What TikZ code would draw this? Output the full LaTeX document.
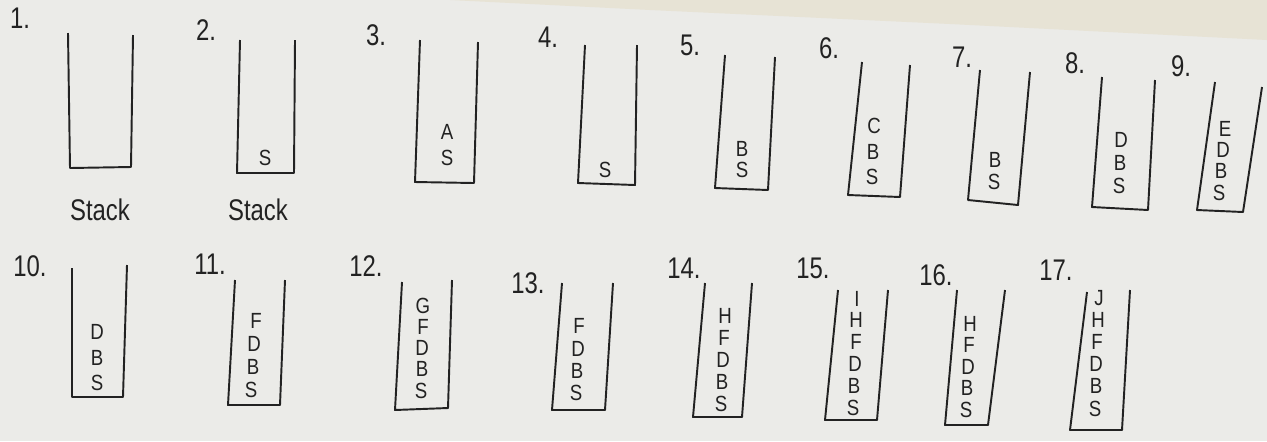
\documentclass[tikz,border=0pt]{standalone}
\usepackage{fontspec}
\setmainfont{Liberation Sans}
\definecolor{paper}{HTML}{EBEBE8}
\definecolor{beige}{HTML}{E7E3D5}
\definecolor{ink}{HTML}{222222}
\tikzset{
  cup/.style={draw=ink, line width=1.1pt, line join=round},
  lab/.style={text=ink, font=\fontsize{17}{17}\selectfont, inner sep=0pt, xscale=0.8},
  let/.style={text=ink, font=\fontsize{12.5}{12.5}\selectfont, inner sep=0pt, xscale=0.85},
}
\begin{document}
\begin{tikzpicture}[x=0.02cm,y=-0.02cm]
\fill[paper] (0,0) rectangle (1267,441);
\fill[beige] (450,0) -- (1267,0) -- (1267,40) -- (950,24) -- (650,10) -- cycle;
\useasboundingbox (0,0) rectangle (1267,441);
% ---------- row 1 ----------
\node[lab] (n1) at (20,18) {1.};
\draw[cup] (68,33) -- (70,168) -- (131,167) -- (133,35);
\node[lab] (st1) at (100,210) {Stack};
\node[lab] (n2) at (206,30) {2.};
\draw[cup] (240,40) -- (237,173) -- (294,173) -- (295,40);
\node[let] (c2s) at (265,158) {S};
\node[lab] (st2) at (258,210) {Stack};
\node[lab] (n3) at (376,35) {3.};
\draw[cup] (420,40) -- (415,182) -- (474,183) -- (478,42);
\node[let] (c3a) at (447,132) {A};
\node[let] (c3s) at (447,158) {S};
\node[lab] (n4) at (548,37) {4.};
\draw[cup] (585,45) -- (578,183) -- (635,185) -- (637,45);
\node[let] (c4s) at (605,170) {S};
\node[lab] (n5) at (690,45) {5.};
\draw[cup] (725,55) -- (715,188) -- (768,190) -- (775,57);
\node[let] (c5b) at (742,149) {B};
\node[let] (c5s) at (742,170) {S};
\node[lab] (n6) at (829,48) {6.};
\draw[cup] (862,62) -- (848,195) -- (900,197) -- (910,65);
\node[let] (c6c) at (874,126) {C};
\node[let] (c6b) at (873,152) {B};
\node[let] (c6s) at (872,177) {S};
\node[lab] (n7) at (962,57) {7.};
\draw[cup] (980,70) -- (968,200) -- (1018,205) -- (1030,72);
\node[let] (c7b) at (995,160) {B};
\node[let] (c7s) at (994,182) {S};
\node[lab] (n8) at (1075,63) {8.};
\draw[cup] (1102,77) -- (1092,207) -- (1148,210) -- (1155,80);
\node[let] (c8d) at (1121,140) {D};
\node[let] (c8b) at (1120,163) {B};
\node[let] (c8s) at (1119,186) {S};
\node[lab] (n9) at (1181,66) {9.};
\draw[cup] (1215,82) -- (1197,210) -- (1243,212) -- (1262,87);
\node[let] (c9e) at (1225,129) {E};
\node[let] (c9d) at (1223,150) {D};
\node[let] (c9b) at (1221,171) {B};
\node[let] (c9s) at (1219,193) {S};
% ---------- row 2 ----------
\node[lab] (n10) at (30,266) {10.};
\draw[cup] (72,268) -- (72,397) -- (123,397) -- (127,265);
\node[let] (c10d) at (97,332) {D};
\node[let] (c10b) at (97,358) {B};
\node[let] (c10s) at (97,383) {S};
\node[lab] (n11) at (210,264) {11.};
\draw[cup] (235,280) -- (228,405) -- (280,405) -- (285,280);
\node[let] (c11f) at (256,321) {F};
\node[let] (c11d) at (254,344) {D};
\node[let] (c11b) at (253,367) {B};
\node[let] (c11s) at (251,390) {S};
\node[lab] (n12) at (366,266) {12.};
\draw[cup] (402,282) -- (395,410) -- (448,408) -- (452,280);
\node[let] (c12g) at (423,306) {G};
\node[let] (c12f) at (423,327) {F};
\node[let] (c12d) at (422,348) {D};
\node[let] (c12b) at (422,369) {B};
\node[let] (c12s) at (421,391) {S};
\node[lab] (n13) at (528,283) {13.};
\draw[cup] (562,283) -- (552,410) -- (605,410) -- (613,283);
\node[let] (c13f) at (579,326) {F};
\node[let] (c13d) at (578,349) {D};
\node[let] (c13b) at (577,371) {B};
\node[let] (c13s) at (576,393) {S};
\node[lab] (n14) at (684,268) {14.};
\draw[cup] (705,283) -- (693,417) -- (742,417) -- (752,283);
\node[let] (c14h) at (725,316) {H};
\node[let] (c14f) at (724,338) {F};
\node[let] (c14d) at (723,360) {D};
\node[let] (c14b) at (722,382) {B};
\node[let] (c14s) at (721,404) {S};
\node[lab] (n15) at (813,268) {15.};
\draw[cup] (838,290) -- (825,420) -- (877,420) -- (888,290);
\node[let] (c15i) at (857,299) {I};
\node[let] (c15h) at (856,320) {H};
\node[let] (c15f) at (856,342) {F};
\node[let] (c15d) at (855,364) {D};
\node[let] (c15b) at (854,386) {B};
\node[let] (c15s) at (853,408) {S};
\node[lab] (n16) at (936,275) {16.};
\draw[cup] (957,290) -- (945,425) -- (988,425) -- (1005,290);
\node[let] (c16h) at (970,324) {H};
\node[let] (c16f) at (969,345) {F};
\node[let] (c16d) at (968,367) {D};
\node[let] (c16b) at (967,388) {B};
\node[let] (c16s) at (966,410) {S};
\node[lab] (n17) at (1056,270) {17.};
\draw[cup] (1087,292) -- (1070,430) -- (1122,430) -- (1130,290);
\node[let] (c17j) at (1099,298) {J};
\node[let] (c17h) at (1098,320) {H};
\node[let] (c17f) at (1097,342) {F};
\node[let] (c17d) at (1096,364) {D};
\node[let] (c17b) at (1096,386) {B};
\node[let] (c17s) at (1095,409) {S};
\end{tikzpicture}
\end{document}
